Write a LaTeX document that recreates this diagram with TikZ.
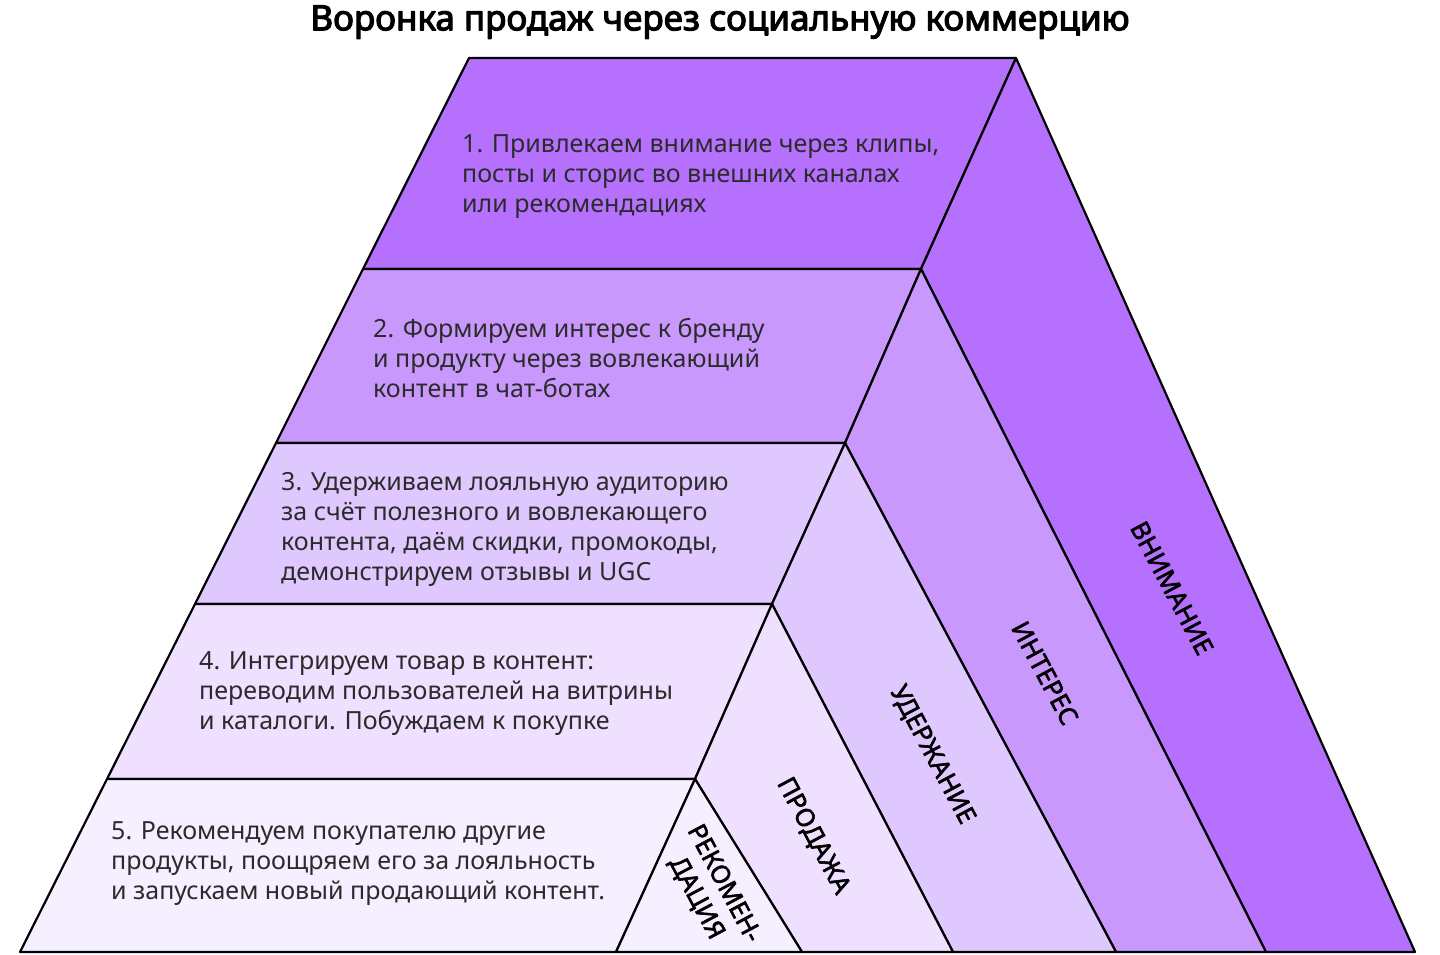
\documentclass[tikz,border=0pt]{standalone}
\usepackage{fontspec}
\setmainfont{Noto Sans}
\newfontfamily\bandfont[FakeBold=2.2]{Noto Sans}
\newfontfamily\titlefont[FakeBold=3.2]{Noto Sans}
\definecolor{vnim}{HTML}{B571FE}
\definecolor{inter}{HTML}{C998FD}
\definecolor{uder}{HTML}{DFC8FD}
\definecolor{prod}{HTML}{EEE0FE}
\definecolor{rekom}{HTML}{F6EFFF}
\definecolor{textgray}{HTML}{2B2B2B}
\begin{document}
\begin{tikzpicture}[x=1pt,y=-1pt,line join=round,
  edge/.style={draw=black,line width=2.2pt},
  stage/.style={anchor=west,align=left,inner sep=0pt,text=textgray,font=\fontsize{25}{30}\selectfont},
  band/.style={rotate=-62,align=center,inner sep=0pt,font=\bandfont\fontsize{25.5}{31}\selectfont}]
\useasboundingbox (0,0) rectangle (1440,954);

% Titulek
\node[font=\titlefont\fontsize{35}{40}\selectfont] (title) at (720,22) {Воронка продаж через социальную коммерцию};

% Body
\coordinate (t0) at (469,58);  \coordinate (r0) at (1016,58);
\coordinate (l1) at (363,269); \coordinate (p1) at (921,269);
\coordinate (l2) at (276,443); \coordinate (p2) at (845,443);
\coordinate (l3) at (195,604); \coordinate (p3) at (772,604);
\coordinate (l4) at (107,779); \coordinate (p4) at (695,779);
\coordinate (l5) at (20,952);  \coordinate (p5) at (616,952);
\coordinate (b1) at (802,952); \coordinate (b2) at (953,952);
\coordinate (b3) at (1116,952); \coordinate (b4) at (1266,952);
\coordinate (b5) at (1415,952);

% Patra
\filldraw[edge,fill=vnim] (t0) -- (r0) -- (p1) -- (l1) -- cycle;
\filldraw[edge,fill=inter] (l1) -- (p1) -- (p2) -- (l2) -- cycle;
\filldraw[edge,fill=uder] (l2) -- (p2) -- (p3) -- (l3) -- cycle;
\filldraw[edge,fill=prod] (l3) -- (p3) -- (p4) -- (l4) -- cycle;
\filldraw[edge,fill=rekom] (l4) -- (p4) -- (p5) -- (l5) -- cycle;

% Pasy
\filldraw[edge,fill=vnim] (r0) -- (b5) -- (b4) -- (p1) -- cycle;
\filldraw[edge,fill=inter] (p1) -- (b4) -- (b3) -- (p2) -- cycle;
\filldraw[edge,fill=uder] (p2) -- (b3) -- (b2) -- (p3) -- cycle;
\filldraw[edge,fill=prod] (p3) -- (b2) -- (b1) -- (p4) -- cycle;
\filldraw[edge,fill=rekom] (p4) -- (b1) -- (p5) -- cycle;

% Texty
\node[stage] (stage1) at (462,177) {1. Привлекаем внимание через клипы,\\посты и сторис во внешних каналах\\или рекомендациях};
\node[stage] (stage2) at (373,358) {2. Формируем интерес к бренду\\и продукту через вовлекающий\\контент в чат-ботах};
\node[stage] (stage3) at (281,529) {3. Удерживаем лояльную аудиторию\\за счёт полезного и вовлекающего\\контента, даём скидки, промокоды,\\демонстрируем отзывы и UGC};
\node[stage] (stage4) at (199,694) {4. Интегрируем товар в контент:\\переводим пользователей на витрины\\и каталоги. Побуждаем к покупке};
\node[stage] (stage5) at (111,864) {5. Рекомендуем покупателю другие\\продукты, поощряем его за лояльность\\и запускаем новый продающий контент.};

\node[band] (vnimlabel) at (1172,588) {ВНИМАНИЕ};
\node[band] (interlabel) at (1045,673) {ИНТЕРЕС};
\node[band] (uderlabel) at (932,755) {УДЕРЖАНИЕ};
\node[band] (prodlabel) at (813,836) {ПРОДАЖА};
\node[band] (rekomlabel) at (710,891) {РЕКОМЕН-\\ДАЦИЯ};
\end{tikzpicture}
\end{document}
